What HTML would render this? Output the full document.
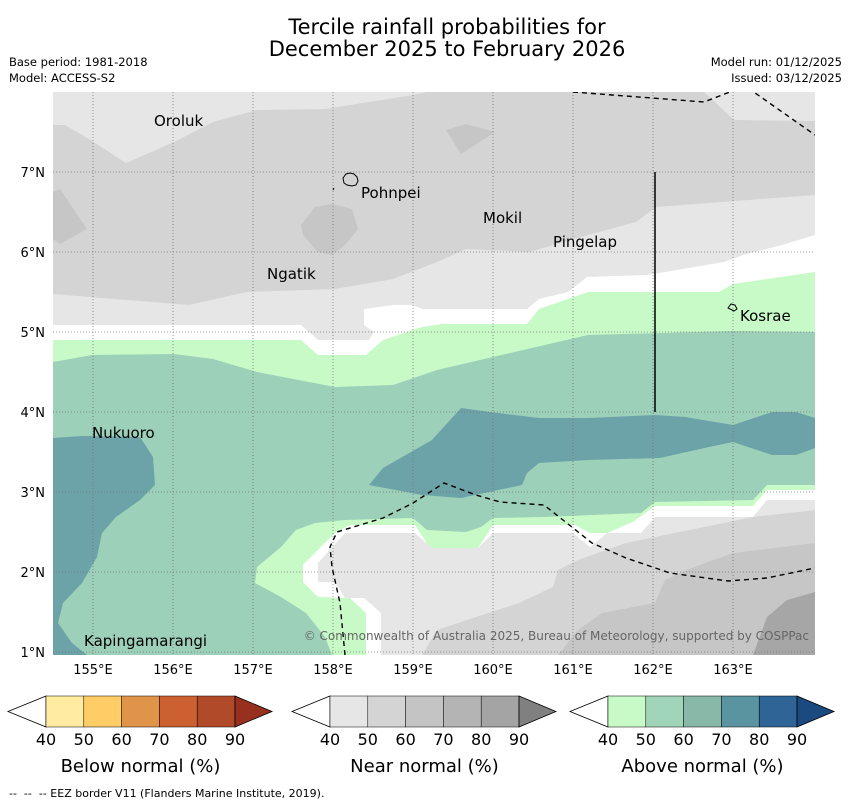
<!DOCTYPE html>
<html><head><meta charset="utf-8">
<style>
body{margin:0;background:#fff;width:850px;height:804px;overflow:hidden;font-family:"Liberation Sans","DejaVu Sans",sans-serif}
svg{display:block}
text{font-family:"DejaVu Sans","Liberation Sans",sans-serif}
</style></head>
<body>
<svg id="chart" width="850" height="804" viewBox="0 0 850 804" xmlns="http://www.w3.org/2000/svg">
<text x="447" y="34" font-size="21" text-anchor="middle">Tercile rainfall probabilities for</text>
<text x="447" y="56" font-size="21" text-anchor="middle">December 2025 to February 2026</text>
<text x="9" y="66" font-size="11.5">Base period: 1981-2018</text>
<text x="9" y="82" font-size="11.5">Model: ACCESS-S2</text>
<text x="842" y="66" font-size="11.5" text-anchor="end">Model run: 01/12/2025</text>
<text x="842" y="82" font-size="11.5" text-anchor="end">Issued: 03/12/2025</text>
<defs><clipPath id="mapclip"><rect x="53" y="92" width="762" height="563"/></clipPath></defs>
<g id="map" clip-path="url(#mapclip)">
<rect x="53" y="92" width="762" height="563" fill="#e6e6e6"/>
<polygon fill="#d4d4d4" points="53,125 65,125 89,139 126,163 174,142 213,122 257,110 325,109 413,95 427,92 704,92 734,120 815,121 815,195 656,207 636,222 588,235 529,252 466,249 437,262 393,279 335,289 247,292 189,305 53,294"/>
<polygon fill="#c6c6c6" points="301,225 315,207 332,204 352,209 358,229 345,245 332,255 318,252 303,235"/>
<polygon fill="#c6c6c6" points="53,192 60,189 87,229 60,244 53,239"/>
<polygon fill="#c6c6c6" points="446,130 466,124 495,132 461,154"/>
<polygon fill="#ffffff" points="53,325 301,325 318,340 369,340 374,332 364,325 364,309 393,305 413,305 422,309 527,309 539,299 568,292 587,277 646,275 665,272 724,262 743,255 782,245 815,235 815,700 53,700"/>
<polygon fill="#c8fac8" points="53,340 301,340 318,355 366,355 383,340 422,327 442,324 527,324 539,309 588,292 719,292 733,284 815,272 815,700 53,700"/>
<polygon fill="#9dd0b8" points="53,362 92,355 174,354 213,359 257,372 335,387 393,385 437,370 588,335 733,331 815,332 815,485 767,485 753,500 655,502 641,513 592,515 544,517 493,518 481,527 466,532 427,530 413,518 345,520 315,523 296,530 281,547 257,567 255,583 281,597 306,613 325,637 332,655 53,655"/>
<polygon fill="#6ba3a8" points="53,438 82,436 140,437 153,457 155,485 140,500 116,517 102,533 97,557 82,583 63,603 58,623 72,643 87,655 53,655"/>
<polygon fill="#6ba3a8" points="369,485 383,468 432,440 461,408 490,412 539,418 588,418 655,415 685,417 733,425 772,412 796,412 815,418 815,448 796,455 772,455 733,442 709,447 660,458 588,460 539,463 527,473 522,485 461,498 422,495"/>
<polygon fill="#ffffff" points="303,565 335,533 350,525 415,525 430,548 478,548 493,525 575,525 590,533 607,533 633,522 655,506 753,506 767,490 815,490 815,655 366,655 366,613 350,598 318,597 303,582"/>
<polygon fill="#e6e6e6" points="318,582 318,563 345,533 415,533 432,548 478,548 493,533 573,533 590,547 607,533 641,533 655,517 753,517 767,500 815,500 815,655 381,655 381,613 364,598 345,598 335,582"/>
<polygon fill="#d4d4d4" points="815,510 753,517 704,527 626,543 578,560 558,570 553,587 519,603 476,617 437,630 422,655 815,655"/>
<polygon fill="#c6c6c6" points="815,543 782,547 733,553 694,567 665,580 655,603 602,613 578,630 558,655 815,655"/>
<polygon fill="#a6a6a6" points="815,592 787,600 767,617 753,655 815,655"/>
<g id="grid" stroke="#777" stroke-width="0.8" stroke-dasharray="1,2"></g>
<polyline fill="none" stroke="#000" stroke-width="1.4" stroke-dasharray="5,4" points="573,92 704,102 740,88"/>
<polyline fill="none" stroke="#000" stroke-width="1.4" stroke-dasharray="5,4" points="748,88 815,135"/>
<polyline fill="none" stroke="#000" stroke-width="1.4" stroke-dasharray="5,4" points="345,655 340,603 332,567 330,547 337,532 383,518 413,503 444,483 476,495 500,502 544,505 563,520 592,543 626,558 670,573 728,581 767,578 815,568"/>
<line x1="655" y1="172" x2="655" y2="412" stroke="#000" stroke-width="1.5"/>
<path d="M343,178 l3,-4 l4,-1 l4,1 l3,3 l1,4 l-2,4 l-4,1 l-5,-1 l-3,-2 z M333,190 l1,-2" fill="none" stroke="#000" stroke-width="1"/>
<path d="M728,308 l3,-4 l4,1 l2,4 l-3,2 z" fill="none" stroke="#000" stroke-width="1"/>
<g font-size="15" fill="#000">
<text x="154" y="126">Oroluk</text>
<text x="361" y="198">Pohnpei</text>
<text x="483" y="223">Mokil</text>
<text x="553" y="247">Pingelap</text>
<text x="267" y="279">Ngatik</text>
<text x="740" y="321">Kosrae</text>
<text x="92" y="438">Nukuoro</text>
<text x="84" y="646">Kapingamarangi</text>
</g>
<text x="809" y="640" font-size="12" fill="#666" text-anchor="end">© Commonwealth of Australia 2025, Bureau of Meteorology, supported by COSPPac</text>
</g>
<g id="axes" font-size="13"></g>
<g id="colorbars"></g>
<text x="9" y="797" font-size="11" xml:space="preserve">--  --  -- EEZ border V11 (Flanders Marine Institute, 2019).</text>
</svg>
<script>
const lonTicks = [155,156,157,158,159,160,161,162,163];
const latTicks = [1,2,3,4,5,6,7];
const cbTickLabels = ["40","50","60","70","80","90"];
const belowColors = ["#ffeca0","#ffcc66","#e0944a","#cc6030","#b04a28","#983020"];
const nearColors = ["#e6e6e6","#d4d4d4","#c4c4c4","#b4b4b4","#a4a4a4","#808080"];
const aboveColors = ["#c8fac8","#a0d5b9","#87b8a8","#5a94a0","#2e6496","#1a4a80"];
const cbTitles = ["Below normal (%)","Near normal (%)","Above normal (%)"];
const cbStarts = [8,292,570];

const NS="http://www.w3.org/2000/svg";
const xLon = lon => 53 + (lon-154.5)*80;
const yLat = lat => 652 - (lat-1)*80;
function mk(tag, attrs, parent){const e=document.createElementNS(NS,tag);for(const k in attrs)e.setAttribute(k,attrs[k]);parent.appendChild(e);return e;}
const grid=document.getElementById('grid'), axes=document.getElementById('axes');
lonTicks.forEach(l=>{
  const ln=mk('line',{x1:xLon(l),x2:xLon(l),y1:92,y2:655},grid);
  
  
  const t=mk('text',{x:xLon(l),y:674,'text-anchor':'middle'},axes);
  
  
  t.textContent=l+"°E";
});
latTicks.forEach(l=>{
  const ln=mk('line',{x1:53,x2:815,y1:yLat(l),y2:yLat(l)},grid);
  
  
  const t=mk('text',{x:45,y:yLat(l)+5,'text-anchor':'end'},axes);
  
  
  t.textContent=l+"°N";
});
const cbg=document.getElementById('colorbars');
[belowColors,nearColors,aboveColors].forEach((cols,i)=>{
  const x0=cbStarts[i], s=x0+38, bw=37.8, y0=696, y1=727, ym=711.5;
  const tri=mk('polygon',{points:`${x0},${ym} ${s},${y0} ${s},${y1}`,fill:'#fff',stroke:'#000','stroke-width':0.8},cbg);
  
  
  for(let k=0;k<5;k++){
    const r=mk('rect',{x:s+k*bw,y:y0,width:bw,height:y1-y0,fill:cols[k],stroke:'#000','stroke-width':0.5},cbg);
    
    
  }
  const e=s+5*bw;
  const tr=mk('polygon',{points:`${e},${y0} ${e+37},${ym} ${e},${y1}`,fill:cols[5],stroke:'#000','stroke-width':0.8},cbg);
  
  
  cbTickLabels.forEach((lb,k)=>{
    const t=mk('text',{x:s+k*bw,y:745,'font-size':16,'text-anchor':'middle'},cbg);
    
    
    t.textContent=lb;
  });
  const tt=mk('text',{x:s+2.5*bw,y:772,'font-size':18,'text-anchor':'middle'},cbg);
  
  
  tt.textContent=cbTitles[i];
});
</script>
</body></html>
